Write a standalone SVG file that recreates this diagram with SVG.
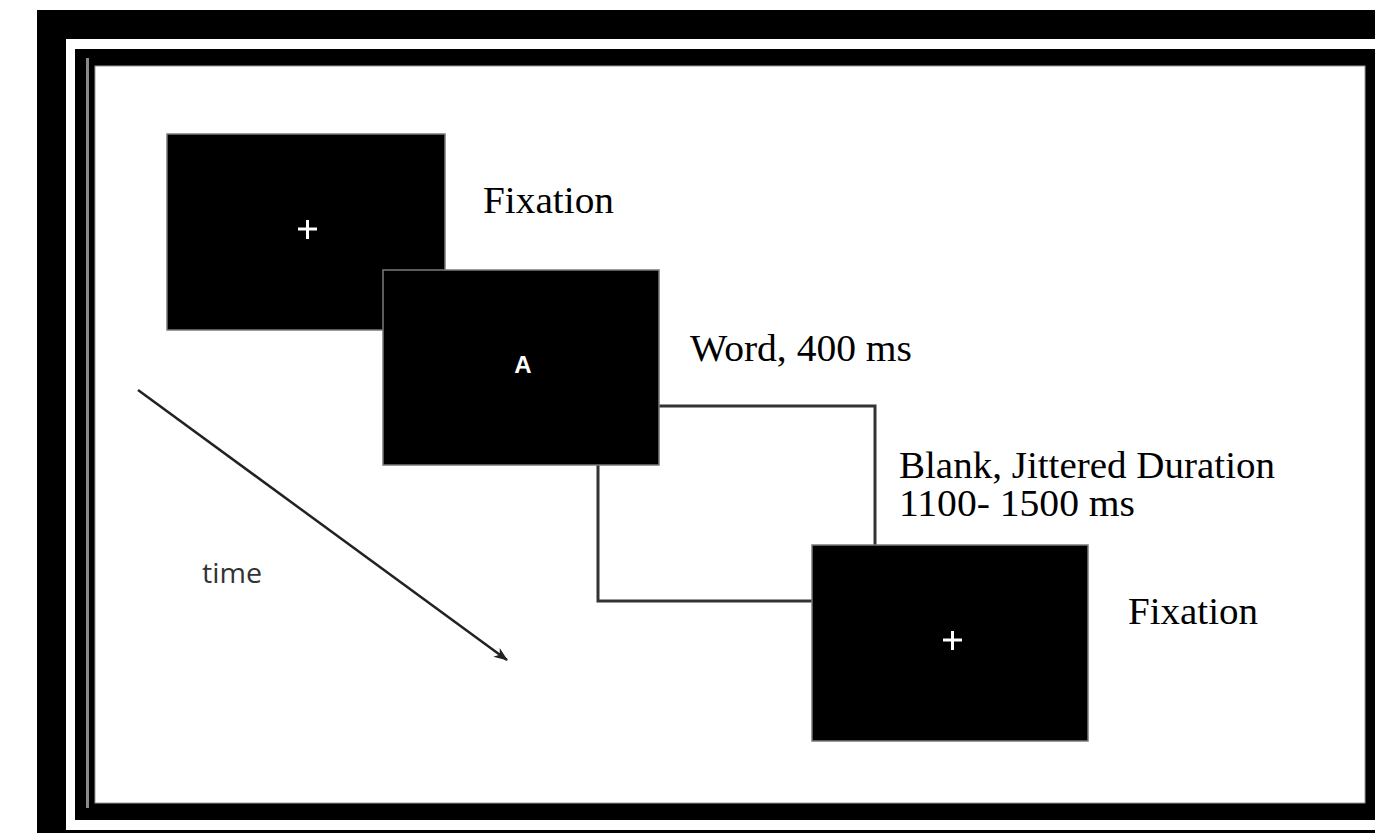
<svg xmlns="http://www.w3.org/2000/svg" width="1375" height="833" viewBox="0 0 1375 833">
  <defs>
    <style>
      .lbl { font-family: "Liberation Serif", "Times New Roman", serif; font-size: 38px; fill: #000; }
      .dark { fill: #000; stroke: #7a7a7a; stroke-width: 1.5; }
      .blank { fill: #fff; stroke: #333; stroke-width: 3; }
      .cross { stroke: #fff; stroke-width: 3; }
    </style>
    <marker id="ah" markerWidth="16" markerHeight="14" refX="13" refY="7" orient="auto" markerUnits="userSpaceOnUse">
      <path d="M0,1.5 L14,7 L0,12.5 L4,7 Z" fill="#222"/>
    </marker>
  </defs>
  <rect width="1375" height="833" fill="#fff"/>
  <g id="frame">
    <rect x="37" y="10" width="1400" height="830" fill="#000"/>
    <rect x="66" y="39" width="1400" height="791" fill="#fff"/>
    <rect x="75" y="49" width="1400" height="771" fill="#000"/>
    <line x1="87.5" y1="58" x2="87.5" y2="808" stroke="#8a8a8a" stroke-width="3"/>
    <rect x="95" y="66" width="1270" height="737" fill="#fff" stroke="#999" stroke-width="1"/>
  </g>
  <g id="box3">
    <rect class="blank" x="598" y="406" width="277" height="195"/>
  </g>
  <g id="box1">
    <rect class="dark" x="167" y="134" width="278" height="196"/>
    <line class="cross" x1="298" y1="229" x2="317" y2="229"/>
    <line class="cross" x1="307.5" y1="220" x2="307.5" y2="239"/>
  </g>
  <g id="box2">
    <rect class="dark" x="383" y="270" width="276" height="195"/>
    <text x="523" y="373" text-anchor="middle" font-family="Liberation Sans, Arial, sans-serif" font-weight="bold" font-size="24" fill="#fff">A</text>
  </g>
  <g id="box4">
    <rect class="dark" x="812" y="545" width="276" height="196"/>
    <line class="cross" x1="943" y1="640" x2="962" y2="640"/>
    <line class="cross" x1="952.5" y1="631" x2="952.5" y2="650"/>
  </g>
  <g id="connectors">
    <line x1="138" y1="390" x2="507" y2="660" stroke="#222" stroke-width="2.5" marker-end="url(#ah)"/>
  </g>
  <g id="labels">
    <text class="lbl" x="483" y="213" textLength="131" lengthAdjust="spacingAndGlyphs">Fixation</text>
    <text class="lbl" x="690" y="361" textLength="222" lengthAdjust="spacingAndGlyphs">Word, 400 ms</text>
    <text class="lbl" x="899" y="478" textLength="376" lengthAdjust="spacingAndGlyphs">Blank, Jittered Duration</text>
    <text class="lbl" x="899" y="516" textLength="236" lengthAdjust="spacingAndGlyphs">1100- 1500 ms</text>
    <text class="lbl" x="1128" y="624" textLength="130" lengthAdjust="spacingAndGlyphs">Fixation</text>
    <text x="202" y="583" font-family="Open Sans, Liberation Sans, sans-serif" font-size="27" fill="#333" textLength="60" lengthAdjust="spacingAndGlyphs">time</text>
  </g>
</svg>
